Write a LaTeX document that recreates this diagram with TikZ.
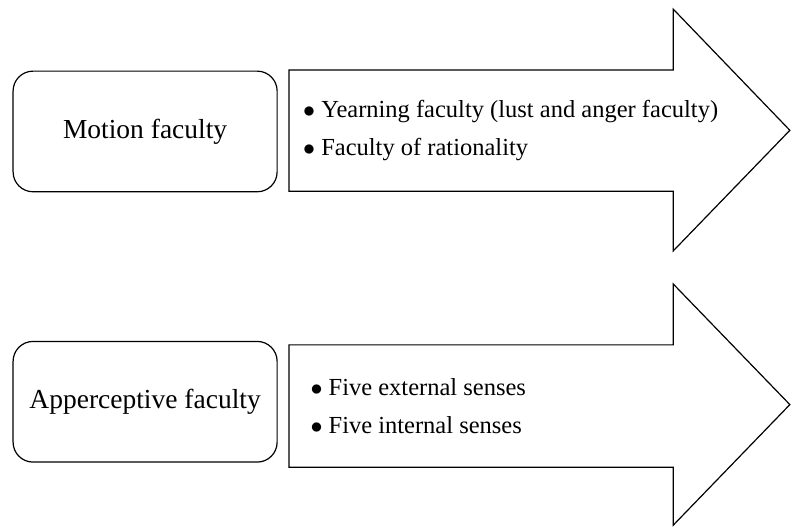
\documentclass[tikz,border=0pt]{standalone}
\usepackage{fontspec}
\setmainfont{Liberation Serif}
\usetikzlibrary{positioning}

\begin{document}
\begin{tikzpicture}[
  faculty/.style={draw,line width=0.6pt,rounded corners=0.35cm,
    minimum width=4.64cm,minimum height=2.12cm,align=center,
    font=\fontsize{13.75}{16.5}\selectfont},
  items/.style={align=left,inner sep=0pt,
    font=\fontsize{12.25}{19}\selectfont},
  bigarrow/.style={draw,line width=0.6pt,line join=miter}
]
\useasboundingbox (0,0) rectangle (13.90,9.26);

% Motion faculty with its arrow.
\node[faculty] (motion) at (2.55,6.95) {Motion faculty};
\draw[bigarrow] (5.08,8.03)--(11.83,8.03)--(11.83,9.10)--(13.88,6.97)
  --(11.83,4.85)--(11.83,5.90)--(5.08,5.90)--cycle;
\node[items,anchor=west] (motionitems) at (5.32,6.97)
  {$\bullet$ Yearning faculty (lust and anger faculty)\\
   $\bullet$ Faculty of rationality};

% Apperceptive faculty with its arrow.
\node[faculty] (apperc) at (2.55,2.20) {Apperceptive faculty};
\draw[bigarrow] (5.08,3.20)--(11.83,3.20)--(11.83,4.27)--(13.88,2.15)
  --(11.83,0.03)--(11.83,1.05)--(5.08,1.05)--cycle;
\node[items,anchor=west] (appercitems) at (5.45,2.12)
  {$\bullet$ Five external senses\\
   $\bullet$ Five internal senses};
\end{tikzpicture}
\end{document}
